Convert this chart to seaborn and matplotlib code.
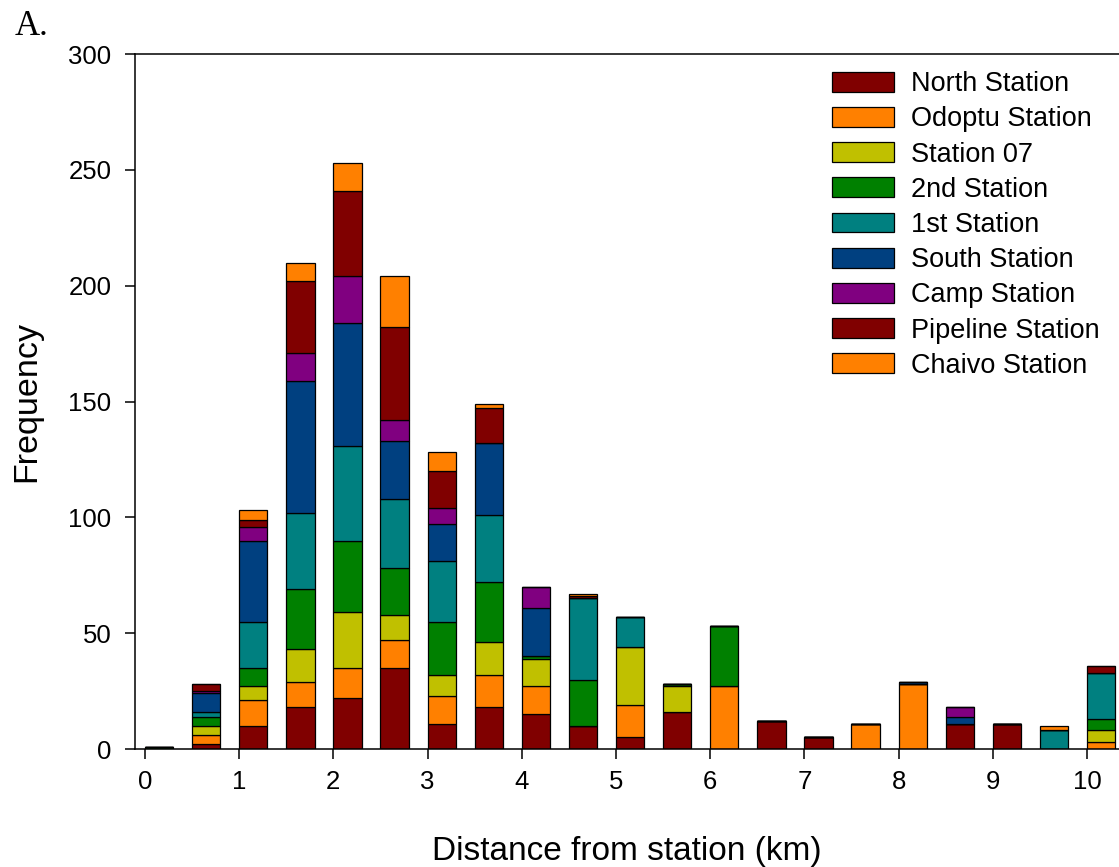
import numpy as np
import pandas as pd
import matplotlib
matplotlib.use("Agg")
import matplotlib.pyplot as plt
from matplotlib.patches import Patch
import seaborn as sns

# ==========================
# Data
# ==========================

positions = [0, 0.5, 1, 1.5, 2, 2.5, 3, 3.5, 4, 4.5, 5,
             5.5, 6, 6.5, 7, 7.5, 8, 8.5, 9, 9.5, 10]

stations = ["North Station", "Odoptu Station", "Station 07", "2nd Station",
            "1st Station", "South Station", "Camp Station",
            "Pipeline Station", "Chaivo Station"]

north    = [0, 2, 10, 18, 22, 35, 11, 18, 15, 10, 5, 16, 0, 12, 5, 0, 0, 11, 11, 0, 0]
odoptu   = [0, 4, 11, 11, 13, 12, 12, 14, 12, 0, 14, 0, 27, 0, 0, 11, 28, 0, 0, 0, 3]
st07     = [0, 4, 6, 14, 24, 11, 9, 14, 12, 0, 25, 11, 0, 0, 0, 0, 0, 0, 0, 0, 5]
second   = [1, 4, 8, 26, 31, 20, 23, 26, 1, 20, 0, 1, 26, 0, 0, 0, 0, 0, 0, 0, 5]
first    = [0, 2, 20, 33, 41, 30, 26, 29, 0, 35, 13, 0, 0, 0, 0, 0, 0, 0, 0, 8, 20]
south    = [0, 8, 35, 57, 53, 25, 16, 31, 21, 0, 0, 0, 0, 0, 0, 0, 1, 3, 0, 0, 0]
camp     = [0, 1, 6, 12, 20, 9, 7, 0, 9, 0, 0, 0, 0, 0, 0, 0, 0, 4, 0, 0, 0]
pipeline = [0, 3, 3, 31, 37, 40, 16, 15, 0, 1, 0, 0, 0, 0, 0, 0, 0, 0, 0, 0, 3]
chaivo   = [0, 0, 4, 8, 12, 22, 8, 2, 0, 1, 0, 0, 0, 0, 0, 0, 0, 0, 0, 2, 0]

series = [north, odoptu, st07, second, first, south, camp, pipeline, chaivo]

colors = ["#800000", "#FF8000", "#C0C000", "#008000", "#008080",
          "#004080", "#800080", "#800000", "#FF8000"]
palette = dict(zip(stations, colors))

# long table: one row per station / distance bin
rows = []
for name, vals in zip(stations, series):
    for pos, v in zip(positions, vals):
        rows.append({"distance": pos + 0.15, "station": name, "count": v})
df = pd.DataFrame(rows)

# ==========================
# Plot
# ==========================

sns.set_style("ticks")
plt.rcParams["font.family"] = ["Liberation Sans", "DejaVu Sans"]
plt.rcParams["text.color"] = "black"
plt.rcParams["axes.labelcolor"] = "black"
plt.rcParams["xtick.color"] = "black"
plt.rcParams["ytick.color"] = "black"

fig = plt.figure(figsize=(11.19, 8.67), dpi=100)
ax = fig.add_axes([0.1206, 0.1361, 0.8794, 0.8016])

# seaborn puts the first hue level on top of the stack -> reverse
sns.histplot(data=df, x="distance", weights="count", hue="station",
             hue_order=stations[::-1], multiple="stack",
             binwidth=0.5, binrange=(-0.1, 10.4),
             shrink=0.6, palette=palette, alpha=1, edgecolor="black",
             linewidth=0.9, legend=False, ax=ax)

ax.set_xlim(-0.106, 10.34)
ax.set_ylim(0, 300)
ax.set_xticks(range(0, 11))
ax.set_yticks(range(0, 301, 50))

ax.set_xlabel("Distance from station (km)", fontsize=24, labelpad=30)
ax.set_ylabel("Frequency", fontsize=24.5, labelpad=19)
ax.tick_params(axis="both", labelsize=18.5, length=7, width=1.1,
               direction="out", color="black", labelcolor="black")
ax.tick_params(axis="x", pad=8)
ax.tick_params(axis="y", pad=10)

for side in ["left", "bottom", "top"]:
    ax.spines[side].set_linewidth(1.1)
    ax.spines[side].set_color("black")
ax.spines["right"].set_visible(False)

handles = [Patch(facecolor=palette[s], edgecolor="black", linewidth=0.9)
           for s in stations]
fig.legend(handles, stations, loc="upper left",
           bbox_to_anchor=(0.7435, 0.918), frameon=False, fontsize=19.5,
           handlelength=2.3, handleheight=0.75, handletextpad=0.6,
           labelspacing=0.34, borderpad=0, borderaxespad=0)

fig.text(0.013, 0.96, "A.", fontsize=25, family="Liberation Serif")

fig.savefig("out.png", dpi=100)
